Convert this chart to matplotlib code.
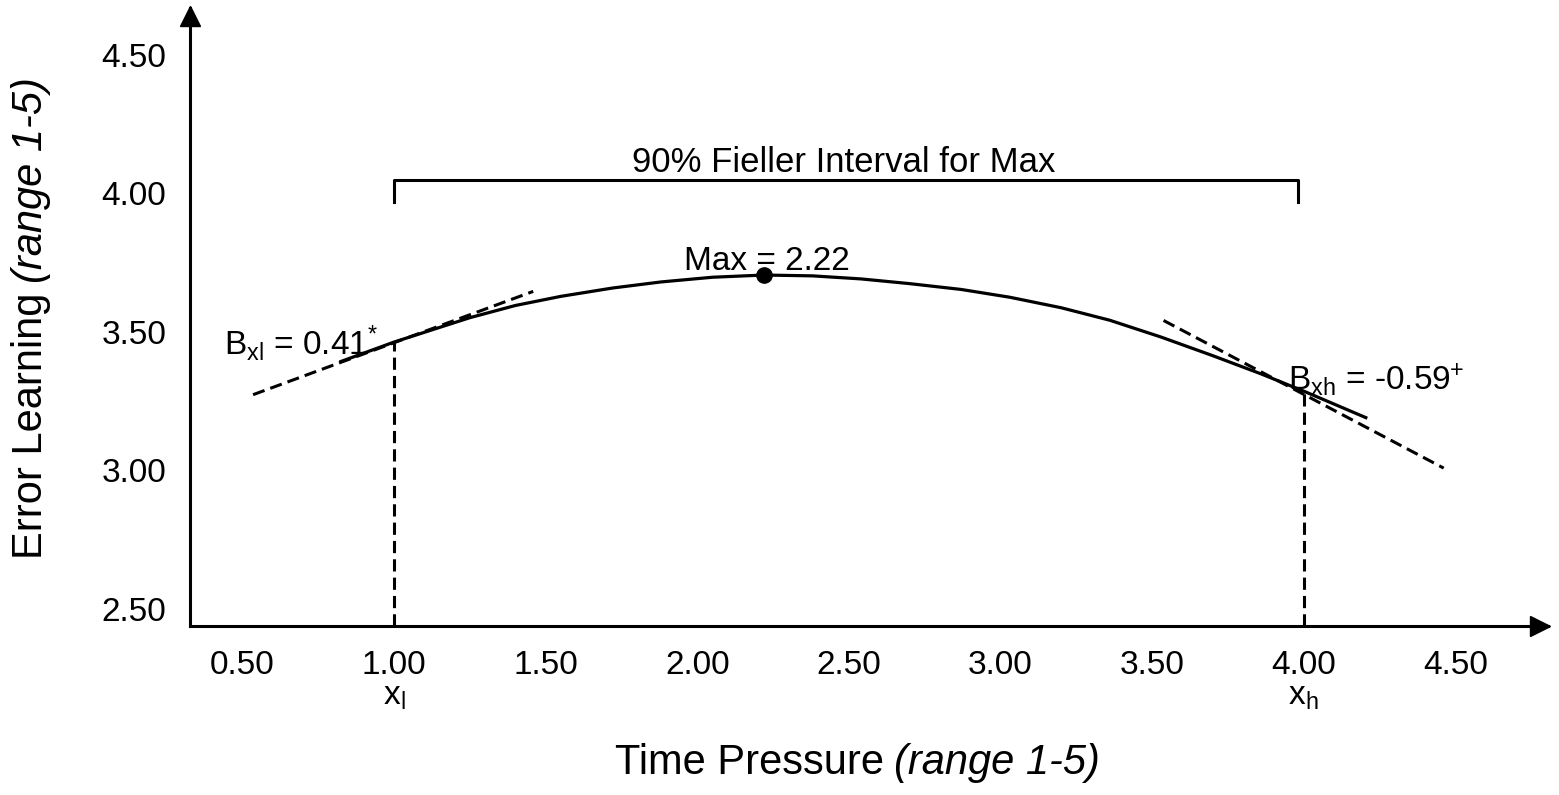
import numpy as np
import matplotlib
matplotlib.use("Agg")
import matplotlib.pyplot as plt

plt.rcParams['font.family'] = ['Liberation Sans', 'DejaVu Sans']
plt.rcParams['mathtext.fontset'] = 'custom'
plt.rcParams['mathtext.rm'] = 'Liberation Sans'
plt.rcParams['mathtext.it'] = 'Liberation Sans:italic'

# curve
curve_x = [0.82, 1.00, 1.25, 1.40, 1.55, 1.72, 1.88, 2.05, 2.22, 2.38, 2.54, 2.70, 2.87,
           3.03, 3.20, 3.36, 3.53, 3.70, 3.86, 4.00, 4.21]
curve_y = [3.390, 3.462, 3.550, 3.594, 3.627, 3.657, 3.679, 3.696, 3.704, 3.701, 3.690,
           3.673, 3.652, 3.624, 3.586, 3.541, 3.480, 3.413, 3.347, 3.285, 3.187]

max_x, max_y = 2.22, 3.704
xl, xh = 1.00, 4.00
xl_y, xh_y = 3.462, 3.282

# tangent (slope) lines at xl and xh
tan_l_x = [0.535, 1.459]
tan_l_y = [3.272, 3.645]
tan_h_x = [3.538, 4.462]
tan_h_y = [3.540, 3.007]

# fieller interval bracket
brk_x = [1.00, 1.00, 3.98, 3.98]
brk_y = [3.967, 4.047, 4.047, 3.967]

xticks = [0.5, 1.0, 1.5, 2.0, 2.5, 3.0, 3.5, 4.0, 4.5]
yticks = [2.5, 3.0, 3.5, 4.0, 4.5]

fig = plt.figure(figsize=(15.59, 7.95), dpi=100)
ax = fig.add_axes([190 / 1559, 1 - 626 / 795, (1548 - 190) / 1559, (626 - 8) / 795])
ax.set_xlim(0.327, 4.806)
ax.set_ylim(2.437, 4.668)

for s in ['top', 'right']:
    ax.spines[s].set_visible(False)
for s in ['left', 'bottom']:
    ax.spines[s].set_linewidth(2.2)
ax.plot(1 - 8 / 1358, 0, '>k', ms=14, transform=ax.transAxes, clip_on=False)
ax.plot(0, 1 - 8 / 618, '^k', ms=14, transform=ax.transAxes, clip_on=False)

ax.set_xticks(xticks)
ax.set_xticklabels([f"{v:.2f}" for v in xticks])
ax.set_yticks(yticks)
ax.set_yticklabels([f"{v:.2f}" for v in yticks])
ax.tick_params(axis='both', length=0, labelsize=24)
ax.tick_params(axis='x', pad=17)
ax.tick_params(axis='y', pad=17)

dash = (0, (4, 2))
ax.plot(curve_x, curve_y, color='black', lw=2.3, solid_capstyle='butt')
ax.plot(tan_l_x, tan_l_y, color='black', lw=2.2, linestyle=dash)
ax.plot(tan_h_x, tan_h_y, color='black', lw=2.2, linestyle=dash)
ax.plot([xl, xl], [2.437, xl_y], color='black', lw=2.2, linestyle=dash)
ax.plot([xh, xh], [2.437, xh_y], color='black', lw=2.2, linestyle=dash)
ax.plot(brk_x, brk_y, color='black', lw=2.2, solid_joinstyle='round')
ax.plot([max_x], [max_y], 'o', color='black', ms=11)

ax.text(2.484, 4.076, "90% Fieller Interval for Max", fontsize=25, ha='center', va='baseline')
ax.text(2.23, 3.722, "Max = 2.22", fontsize=24, ha='center', va='baseline')
ax.text(0.439, 3.415, r"B$_{\mathrm{xl}}$ = 0.41$^{*}$", fontsize=24, ha='left', va='baseline')
ax.text(3.948, 3.289, r"B$_{\mathrm{xh}}$ = -0.59$^{+}$", fontsize=24, ha='left', va='baseline')

ax.text(xl, 2.437 - 0.285, r"x$_{\mathrm{l}}$", fontsize=24, ha='center', va='baseline')
ax.text(xh, 2.437 - 0.285, r"x$_{\mathrm{h}}$", fontsize=24, ha='center', va='baseline')

fig.text(884 / 1559, 1 - 763 / 795, "Time Pressure", fontsize=30, ha='right', va='center')
fig.text(894 / 1559, 1 - 763 / 795, "(range 1-5)", fontsize=30, ha='left', va='center', style='italic')
fig.text(31 / 1559, 1 - 293 / 795, "Error Learning", fontsize=30, rotation=90,
         rotation_mode='anchor', ha='right', va='center')
fig.text(31 / 1559, 1 - 283 / 795, "(range 1-5)", fontsize=30, rotation=90,
         rotation_mode='anchor', ha='left', va='center', style='italic')

fig.savefig("out.png", dpi=100)
